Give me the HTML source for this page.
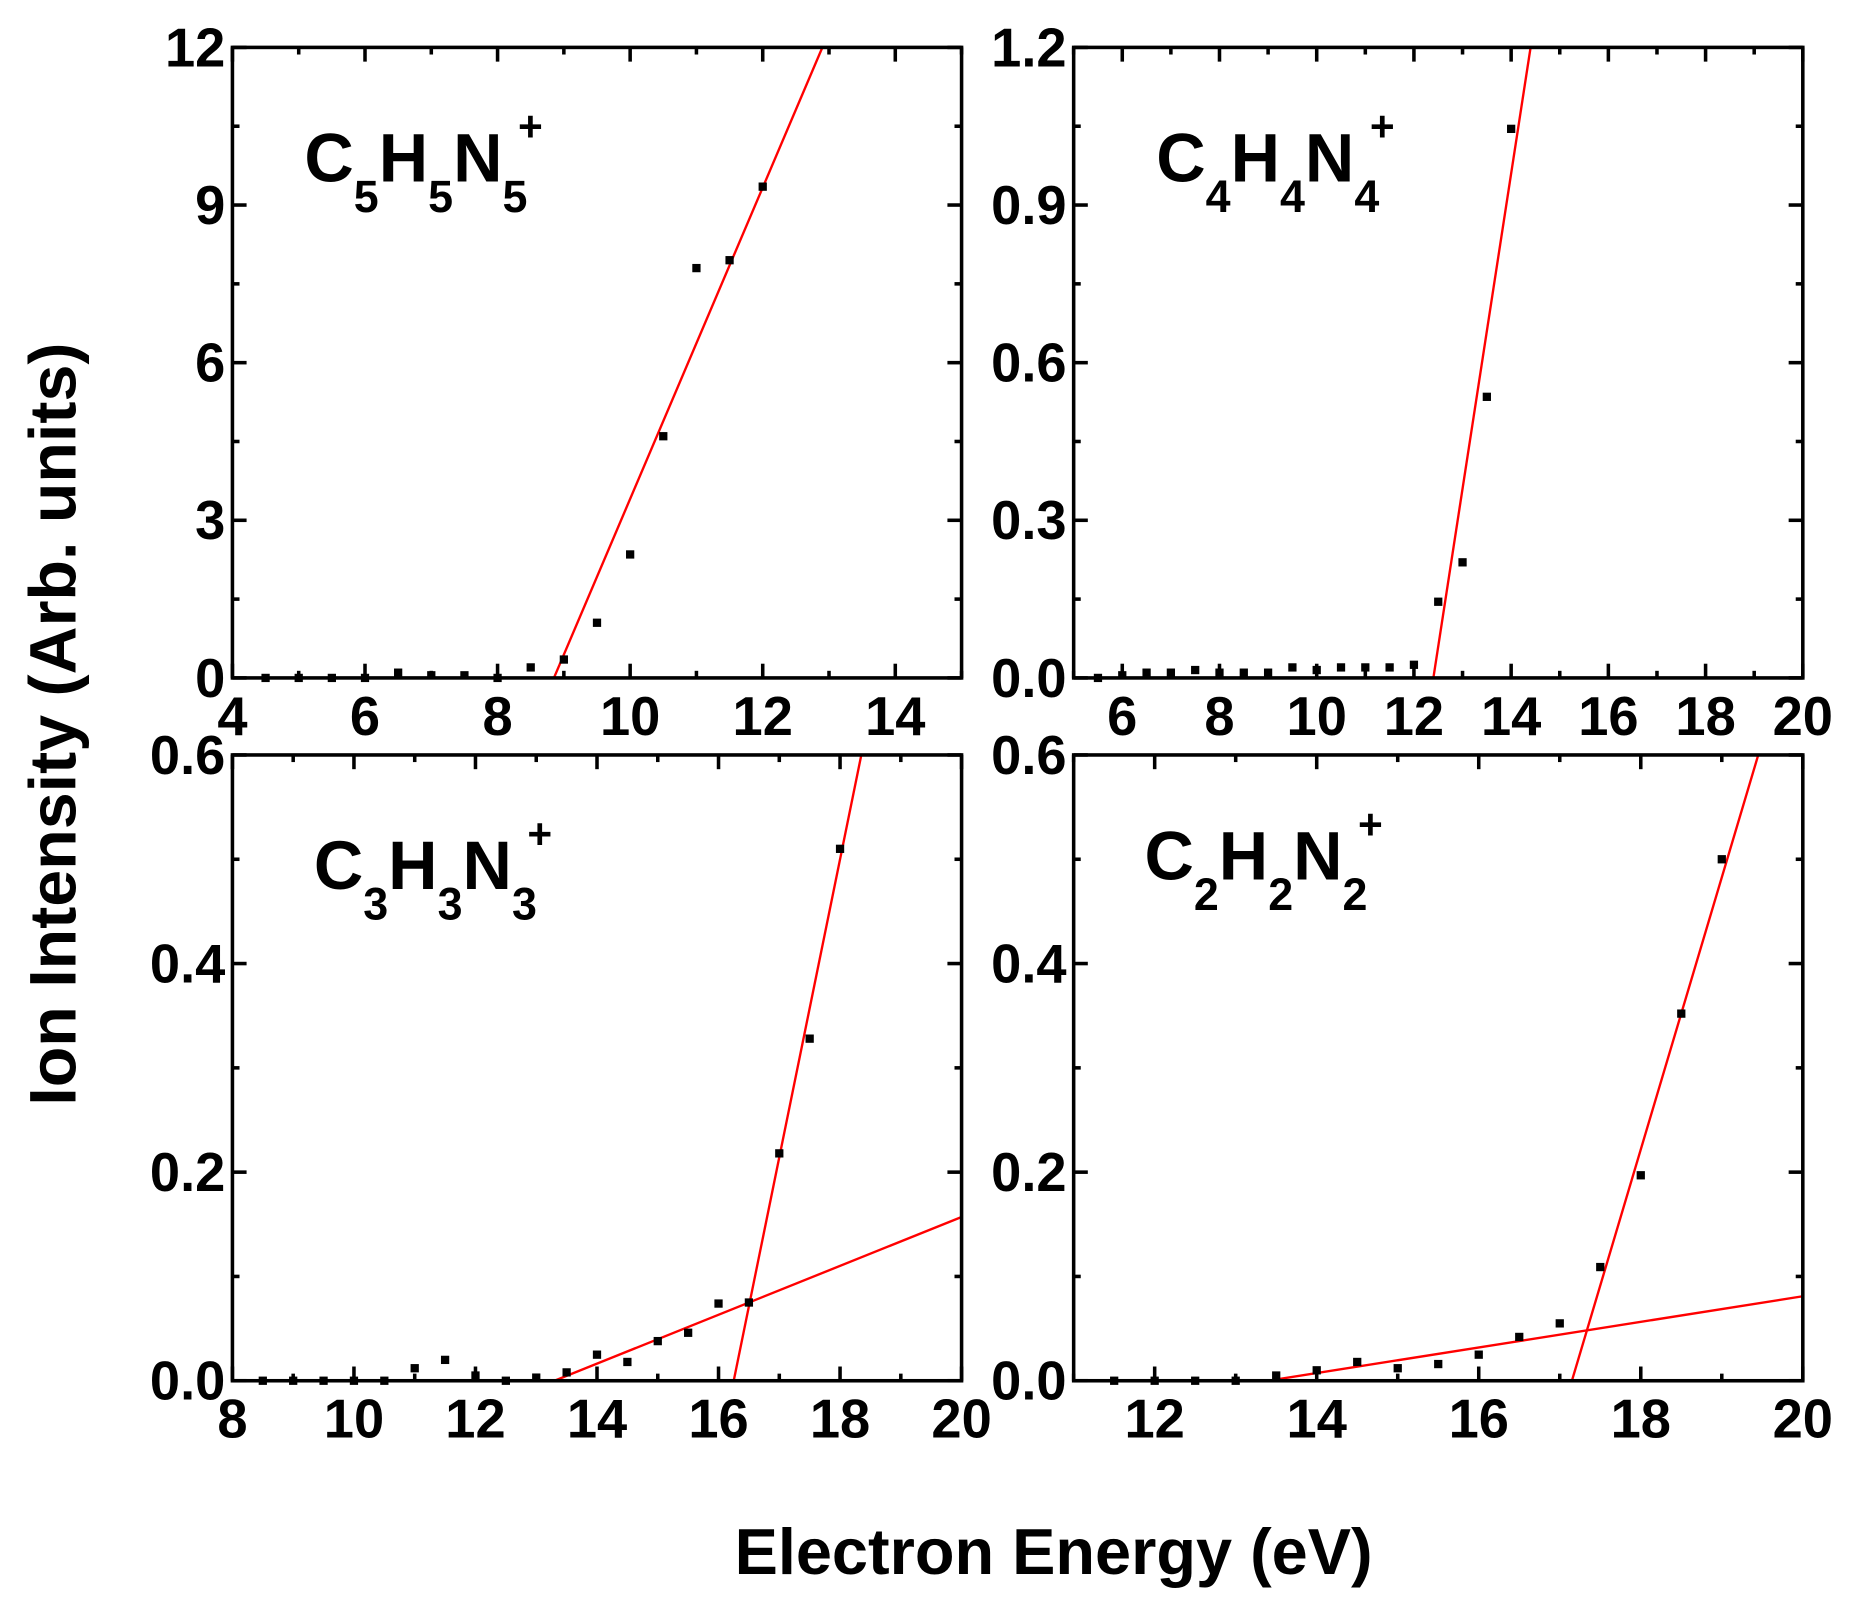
<!DOCTYPE html>
<html><head><meta charset="utf-8"><style>html,body{margin:0;padding:0;background:#fff}svg{display:block}</style></head>
<body>
<svg id="s" width="1850" height="1600" viewBox="0 0 1568 1350" preserveAspectRatio="none" xmlns="http://www.w3.org/2000/svg" font-family="Liberation Sans, Arial, sans-serif" font-weight="bold">
<rect width="1568" height="1350" fill="#fff"/>
<text x="893" y="1328" font-size="55" text-anchor="middle">Electron Energy (eV)</text>
<text transform="translate(64,611) rotate(-90)" font-size="56" text-anchor="middle">Ion Intensity (Arb. units)</text>
</svg>
<script>
var s=document.getElementById('s'),NS='http://www.w3.org/2000/svg';
function el(t,a,txt){var e=document.createElementNS(NS,t);for(var k in a)e.setAttribute(k,a[k]);if(txt!==undefined)e.textContent=txt;s.appendChild(e);return e;}
var P=[
{x0:197,x1:815,y0:40,y1:572,xa:4,xb:15,ya:0,yb:12,xt:[4,6,8,10,12,14],xm:1,yt:[0,3,6,9,12],ym:1.5,yf:0,
 pts:[[4.5,0],[5,0],[5.5,0],[6,0],[6.5,.1],[7,.05],[7.5,.05],[8,0],[8.5,.2],[9,.35],[9.5,1.05],[10,2.35],[10.5,4.6],[11,7.8],[11.5,7.95],[12,9.35]],
 lines:[[8.85,0,12.9,12]],lab:['C','5','H','5','N','5'],lx:258,ly:153},
{x0:910,x1:1528,y0:40,y1:572,xa:5,xb:20,ya:0,yb:1.2,xt:[6,8,10,12,14,16,18,20],xm:1,yt:[0,.3,.6,.9,1.2],ym:.15,yf:1,
 pts:[[5.5,0],[6,.005],[6.5,.01],[7,.01],[7.5,.015],[8,.01],[8.5,.01],[9,.01],[9.5,.02],[10,.015],[10.5,.02],[11,.02],[11.5,.02],[12,.025],[12.5,.145],[13,.22],[13.5,.535],[14,1.045]],
 lines:[[12.4,0,14.4,1.2]],lab:['C','4','H','4','N','4'],lx:980,ly:153},
{x0:197,x1:815,y0:637,y1:1165,xa:8,xb:20,ya:0,yb:.6,xt:[8,10,12,14,16,18,20],xm:1,yt:[0,.2,.4,.6],ym:.1,yf:1,
 pts:[[8.5,0],[9,0],[9.5,0],[10,0],[10.5,0],[11,.012],[11.5,.02],[12,.005],[12.5,0],[13,.003],[13.5,.008],[14,.025],[14.5,.018],[15,.038],[15.5,.046],[16,.074],[16.5,.075],[17,.218],[17.5,.328],[18,.51]],
 lines:[[16.25,0,18.35,.6],[13.3,0,20,.157]],lab:['C','3','H','3','N','3'],lx:266,ly:750},
{x0:910,x1:1528,y0:637,y1:1165,xa:11,xb:20,ya:0,yb:.6,xt:[12,14,16,18,20],xm:1,yt:[0,.2,.4,.6],ym:.1,yf:1,
 pts:[[11.5,0],[12,0],[12.5,0],[13,0],[13.5,.005],[14,.01],[14.5,.018],[15,.012],[15.5,.016],[16,.025],[16.5,.042],[17,.055],[17.5,.109],[18,.197],[18.5,.352],[19,.5]],
 lines:[[17.15,0,19.45,.6],[13.4,0,20,.081]],lab:['C','2','H','2','N','2'],lx:970,ly:742}
];
P.forEach(function(p){
 var X=function(v){return p.x0+(v-p.xa)/(p.xb-p.xa)*(p.x1-p.x0)},Y=function(v){return p.y1-(v-p.ya)/(p.yb-p.ya)*(p.y1-p.y0)};
 var cid='c'+p.x0+p.y0;
 var d=el('clipPath',{id:cid});var r=document.createElementNS(NS,'rect');r.setAttribute('x',p.x0);r.setAttribute('y',p.y0);r.setAttribute('width',p.x1-p.x0);r.setAttribute('height',p.y1-p.y0);d.appendChild(r);
 p.lines.forEach(function(l){el('line',{x1:X(l[0]),y1:Y(l[1]),x2:X(l[2]),y2:Y(l[3]),stroke:'#f00','stroke-width':2,'clip-path':'url(#'+cid+')'});});
 p.pts.forEach(function(q){el('rect',{x:X(q[0])-3.5,y:Y(q[1])-3.5,width:7,height:7,fill:'#000'});});
 for(var v=p.xa;v<=p.xb+1e-9;v+=p.xm){var maj=p.xt.some(function(t){return Math.abs(t-v)<1e-6});var L=maj?12:6;var x=X(v);
  el('line',{x1:x,y1:p.y1,x2:x,y2:p.y1-L,stroke:'#000','stroke-width':3});el('line',{x1:x,y1:p.y0,x2:x,y2:p.y0+L,stroke:'#000','stroke-width':3});}
 for(var v=p.ya;v<=p.yb+1e-9;v+=p.ym){var maj=p.yt.some(function(t){return Math.abs(t-v)<1e-6});var L=maj?12:6;var y=Y(v);
  el('line',{x1:p.x0,y1:y,x2:p.x0+L,y2:y,stroke:'#000','stroke-width':3});el('line',{x1:p.x1,y1:y,x2:p.x1-L,y2:y,stroke:'#000','stroke-width':3});}
 el('rect',{x:p.x0,y:p.y0,width:p.x1-p.x0,height:p.y1-p.y0,fill:'none',stroke:'#000','stroke-width':3});
 p.xt.forEach(function(t){el('text',{x:X(t),y:p.y1+48,'font-size':46,'text-anchor':'middle'},String(t));});
 p.yt.forEach(function(t){el('text',{x:p.x0-6,y:Y(t)+16,'font-size':46,'text-anchor':'end'},t.toFixed(p.yf));});
 var x=p.lx;
 for(var i=0;i<6;i++){if(i%2==0){var e=el('text',{x:x,y:p.ly,'font-size':58},p.lab[i]);x+=e.getComputedTextLength();}
  else{var e=el('text',{x:x,y:p.ly+26,'font-size':38},p.lab[i]);x+=e.getComputedTextLength();}}
 el('text',{x:x-8,y:p.ly-34,'font-size':36},'+');
});
</script>
</body></html>
